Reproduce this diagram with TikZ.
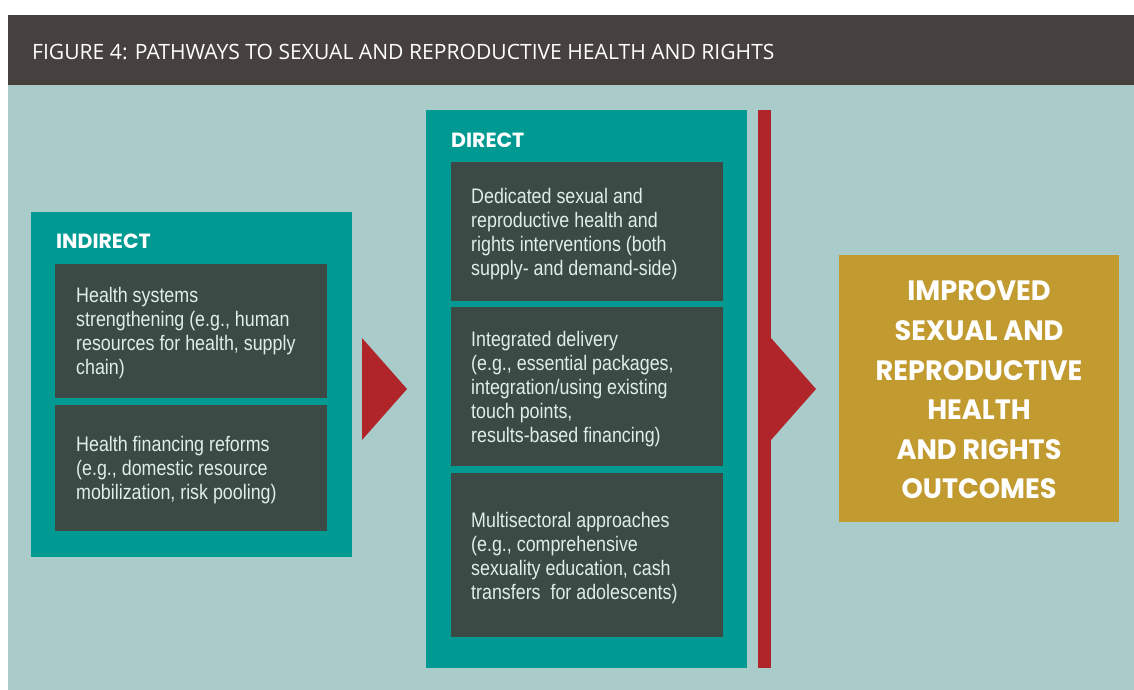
\documentclass[tikz,border=0pt]{standalone}
\usepackage{fontspec}
\newfontfamily\bodyfont[FakeStretch=0.85]{Liberation Sans}
\newfontfamily\headfont{Open Sans}
\newfontfamily\geofont{Poppins}
\newfontfamily\geonarrow[FakeStretch=0.97]{Poppins}
\definecolor{headbg}{HTML}{46413E}
\definecolor{lightbg}{HTML}{A9CBCA}
\definecolor{tealc}{HTML}{009A93}
\definecolor{darkbox}{HTML}{3C4A46}
\definecolor{redc}{HTML}{B0252A}
\definecolor{goldc}{HTML}{C19A30}
\definecolor{bodytxt}{HTML}{E0EEEA}
\tikzset{
  rbox/.style={anchor=north west, inner sep=0pt, outer sep=0pt, draw=none},
  tealbox/.style={rbox, fill=tealc},
  darkcell/.style={rbox, fill=darkbox},
  bodytext/.style={anchor=west, inner sep=0pt, align=left, text=bodytxt,
    font=\bodyfont\fontsize{21}{24}\selectfont},
  grouptitle/.style={anchor=base west, inner sep=0pt, text=white,
    font=\geofont\bfseries\fontsize{20.5}{24}\selectfont},
  pointer/.style={fill=redc, draw=none}
}
\begin{document}
\begin{tikzpicture}[x=1pt,y=-1pt]
\useasboundingbox (0,0) rectangle (1134,690);
\fill[white] (0,0) rectangle (1134,690);
% background panels
\node[rbox, fill=headbg, minimum width=1126pt, minimum height=70pt] (head) at (8,15) {};
\node[rbox, fill=lightbg, minimum width=1126pt, minimum height=605pt] (panel) at (8,85) {};
\node[anchor=base west, inner sep=0pt, text=white, font=\headfont\fontsize{21.1}{24}\selectfont] (title) at (32,60) {FIGURE 4: PATHWAYS TO SEXUAL AND REPRODUCTIVE HEALTH AND RIGHTS};
% indirect
\node[tealbox, minimum width=321pt, minimum height=345pt] (ind) at (31,212) {};
\node[grouptitle] (indt) at (56,248) {INDIRECT};
\node[darkcell, minimum width=272pt, minimum height=134pt] (i1) at (55,264) {};
\node[darkcell, minimum width=272pt, minimum height=126pt] (i2) at (55,405) {};
\node[bodytext] (i1t) at (76,333) {Health systems\\strengthening (e.g., human\\resources for health, supply\\chain)};
\node[bodytext] (i2t) at (76,470) {Health financing reforms\\(e.g., domestic resource\\mobilization, risk pooling)};
% direct
\node[tealbox, minimum width=321pt, minimum height=558pt] (dir) at (426,110) {};
\node[grouptitle] (dirt) at (451,147) {DIRECT};
\node[darkcell, minimum width=272pt, minimum height=139pt] (d1) at (451,162) {};
\node[darkcell, minimum width=272pt, minimum height=159pt] (d2) at (451,307) {};
\node[darkcell, minimum width=272pt, minimum height=164pt] (d3) at (451,473) {};
\node[bodytext] (d1t) at (471,234) {Dedicated sexual and\\reproductive health and\\rights interventions (both\\supply- and demand-side)};
\node[bodytext] (d2t) at (471,389) {Integrated delivery\\(e.g., essential packages,\\integration/using existing\\touch points,\\results-based financing)};
\node[bodytext] (d3t) at (471,558) {Multisectoral approaches\\(e.g., comprehensive\\sexuality education, cash\\transfers\ \ for adolescents)};
% red bar
\node[rbox, fill=redc, minimum width=13pt, minimum height=558pt] (bar) at (758,110) {};
% arrows
\fill[pointer] (362,338) -- (407,389) -- (362,440) -- cycle;
\fill[pointer] (771,338) -- (816,389) -- (771,440) -- cycle;
% outcome
\node[rbox, fill=goldc, minimum width=280pt, minimum height=267pt] (out) at (839,255) {};
\node[inner sep=0pt, align=center, text=white, font=\geonarrow\bfseries\fontsize{28}{39.6}\selectfont] (outt) at (979,390) {IMPROVED\\SEXUAL AND\\REPRODUCTIVE\\HEALTH\\AND RIGHTS\\OUTCOMES};
\end{tikzpicture}
\end{document}
